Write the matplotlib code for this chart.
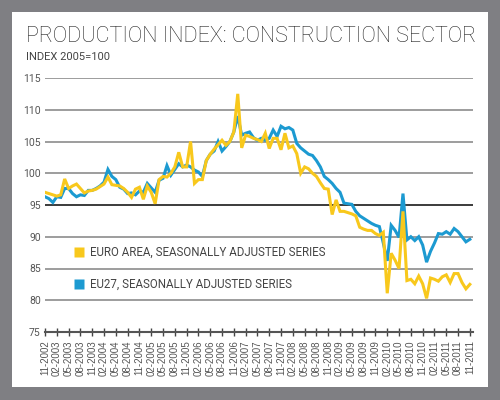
import numpy as np
import pandas as pd
import matplotlib
matplotlib.use("Agg")
import matplotlib.pyplot as plt
from matplotlib.lines import Line2D
from matplotlib.patches import Rectangle

# monthly index values, 11-2002 .. 11-2011 (2005=100)
months = pd.date_range("2002-11-01", "2011-11-01", freq="MS")

euro_area = [
    97.0, 96.8, 96.6, 96.4, 96.6, 99.1, 97.6, 98.0, 98.3, 97.6,
    96.9, 97.2, 97.3, 97.5, 97.9, 98.3, 99.4, 98.2, 98.1, 98.0,
    97.6, 97.0, 96.2, 97.5, 97.8, 95.9, 98.0, 97.0, 95.2, 99.0,
    99.5, 99.4, 100.0, 101.0, 103.3, 101.0, 101.0, 105.0, 98.4, 99.0,
    99.0, 102.0, 103.0, 103.8, 104.5, 105.2, 104.4, 105.0, 106.5, 112.5,
    104.0, 106.0, 105.8, 105.5, 105.3, 105.0, 106.3, 103.9, 105.5, 105.5,
    103.7, 106.3, 104.0, 104.3, 103.1, 100.0, 101.0, 100.7, 100.0, 99.5,
    98.5, 97.6, 97.5, 93.5, 95.8, 94.0, 94.0, 93.8, 93.6, 93.3,
    91.5, 91.2, 91.0, 91.0, 90.5, 90.2, 90.7, 81.1, 87.4, 86.3,
    85.0, 94.0, 83.1, 83.3, 82.6, 83.8, 82.6, 80.3, 83.5, 83.3,
    83.0, 83.7, 84.0, 82.8, 84.2, 84.2, 82.8, 81.8, 82.5,
]

eu27 = [
    96.3, 96.0, 95.4, 96.3, 96.2, 97.6, 97.6, 96.8, 96.3, 96.6,
    96.5, 97.3, 97.3, 97.6, 98.0, 98.6, 100.6, 99.5, 99.0, 97.8,
    97.5, 96.8, 96.9, 96.6, 97.2, 97.0, 98.4, 97.7, 97.0, 98.9,
    99.2, 101.2, 99.7, 100.6, 101.5, 101.0, 101.3, 101.0, 100.5, 100.2,
    99.5, 102.0, 103.0, 103.5, 105.0, 103.5, 104.2, 105.0, 106.5, 109.0,
    106.0, 106.3, 106.5, 105.6, 105.2, 105.5, 105.2, 105.5, 106.8, 105.8,
    107.4, 107.0, 107.2, 106.8, 104.7, 104.0, 103.5, 103.0, 102.8, 102.0,
    101.0, 99.5, 99.0, 98.4, 97.6, 97.0, 95.3, 95.2, 95.1, 94.0,
    93.3, 92.9, 92.5, 92.1, 91.8, 91.6, 89.0, 86.2, 91.8, 91.0,
    89.9, 96.8, 89.5, 90.0, 89.4, 90.0, 88.7, 86.0, 87.7, 89.0,
    90.5, 90.4, 90.8, 90.4, 91.3, 90.8, 90.0, 89.2, 89.6,
]

tick_labels = [d.strftime("%m-%Y") for d in months[::3]]
y_ticks = [75, 80, 85, 90, 95, 100, 105, 110, 115]

series_names = ["EURO AREA, SEASONALLY ADJUSTED SERIES", "EU27, SEASONALLY ADJUSTED SERIES"]
yellow = "#f8c81c"
blue = "#1c9ad1"

W, H = 500, 400
fig = plt.figure(figsize=(5, 4), dpi=100)
fig.patch.set_facecolor("#7f7f83")
fig.add_artist(Rectangle((12 / W, 13 / H), 476 / W, 375 / H, transform=fig.transFigure,
                         facecolor="white", edgecolor="none", zorder=-5))

ax = fig.add_axes([45 / W, 1 - 332 / H, (473 - 45) / W, (332 - 78) / H])
ax.set_facecolor("none")

x = np.arange(len(months))
ax.plot(x, eu27, color=blue, lw=2.2, solid_joinstyle="miter", zorder=3)
ax.plot(x, euro_area, color=yellow, lw=2.2, solid_joinstyle="miter", zorder=4)

for v in y_ticks[1:]:
    ax.axhline(v, color="#1a1a1a" if v == 95 else "#8c8c8c", lw=1.2, zorder=1)

ax.set_xlim(0, 108.8)
ax.set_ylim(75, 115)
for s in ["top", "right", "left"]:
    ax.spines[s].set_visible(False)
ax.spines["bottom"].set_color("#555555")
ax.spines["bottom"].set_linewidth(1.5)

ax.set_yticks(y_ticks)
ax.set_yticklabels([str(v) for v in y_ticks], fontsize=7.5, color="#555555", family="Roboto")
ax.tick_params(axis="y", length=0, pad=3)

ax.set_xticks(x[::3])
ax.set_xticklabels(tick_labels, rotation=90, fontsize=7, color="#555555", family="Liberation Sans")
ax.tick_params(axis="x", direction="inout", length=6, width=1, color="#444444", pad=3)

handles = [Line2D([], [], ls="none", marker="s", markersize=7, markerfacecolor=c, markeredgecolor="none")
           for c in (yellow, blue)]
leg = ax.legend(handles, series_names, loc="upper left", bbox_to_anchor=(0.069, 0.34),
                frameon=False, handlelength=0.8, handletextpad=0.5, labelspacing=1.7,
                borderpad=0, borderaxespad=0, prop={"family": "Roboto", "size": 8.3})
for t in leg.get_texts():
    t.set_color("#444444")

fig.text(26 / W, 1 - 42 / H, "PRODUCTION INDEX: CONSTRUCTION SECTOR", fontsize=15.5,
         family="Roboto", weight="light", color="#222222", va="baseline")
fig.text(26 / W, 1 - 60 / H, "INDEX 2005=100", fontsize=8, family="Roboto",
         color="#444444", va="baseline")

fig.savefig("out.png", dpi=100, facecolor=fig.get_facecolor())
